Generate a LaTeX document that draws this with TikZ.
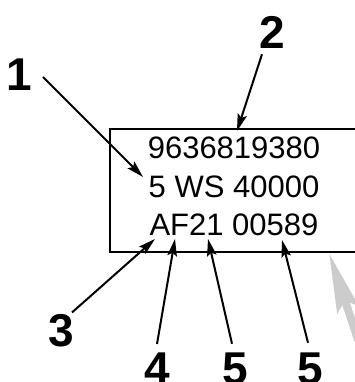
\documentclass[tikz,border=0pt]{standalone}
\usepackage{fontspec}
\setmainfont{Liberation Sans}
\usetikzlibrary{arrows.meta, positioning, calc}
\definecolor{FigText}{HTML}{000000}
\definecolor{FigPointer}{HTML}{CCCCCC}

\begin{document}
\begin{tikzpicture}[
x=1pt, y=1pt,
>={Stealth[length=17pt, width=9.5pt, inset=3pt]},
panel/.style={
draw=FigText,
line width=2pt,
minimum width=260pt,
minimum height=123pt,
inner sep=0pt
},
row/.style={
anchor=base,
inner sep=0pt,
font=\fontsize{31}{31}\selectfont
},
callout/.style={
inner sep=0pt,
font=\fontsize{46}{46}\selectfont\bfseries
},
arrow/.style={->, line width=2pt, draw=FigText},
every node/.style={text=FigText}
]
\clip (0,0) rectangle (355,382);

% Frame with the three printed lines
\node[panel, anchor=north west] (frame) at (109,254) {};
\node[row] (row1) at (234,223) {9636819380};
\node[row] (row2) at (234,184) {5 WS 40000};
\node[row] (row3) at (234,146) {AF21 00589};

% Arrow tips on the text
\coordinate (tip1) at (143,205);
\coordinate (tip2) at (237,251);
\coordinate (tip3) at (155,143);
\coordinate (tip4) at (175,143);
\coordinate (tip5a) at (208,143);
\coordinate (tip5b) at (282,142);

% Numbered callouts
\node[callout] (lbl1) at (19,307) {1};
\node[callout] (lbl2) at (272,350) {2};
\node[callout] (lbl3) at (61,51) {3};
\node[callout] (lbl4) at (157,13) {4};
\node[callout] (lbl5a) at (235,13) {5};
\node[callout] (lbl5b) at (310,13) {5};

% Arrows
\draw[arrow] ([shift={(11pt,-2pt)}]lbl1.east) -- (tip1);
\draw[arrow] ([shift={(-10pt,-6pt)}]lbl2.south) -- (tip2);
\draw[arrow] ([shift={(-2pt,2pt)}]lbl3.north east) -- (tip3);
\draw[arrow] ([yshift=9pt]lbl4.north) -- (tip4);
\draw[arrow] ([shift={(-3pt,9pt)}]lbl5a.north) -- (tip5a);
\draw[arrow] ([shift={(-2pt,10pt)}]lbl5b.north) -- (tip5b);

% Grey pointer entering from the lower right
\coordinate (ptip) at (329,129);
\coordinate (ptail) at ($(ptip)+(48,-143)$);
\draw[line width=8pt, draw=FigPointer,
  -{Stealth[length=59pt, width=22pt, inset=9pt]}] (ptail) -- (ptip);

\end{tikzpicture}
\end{document}
